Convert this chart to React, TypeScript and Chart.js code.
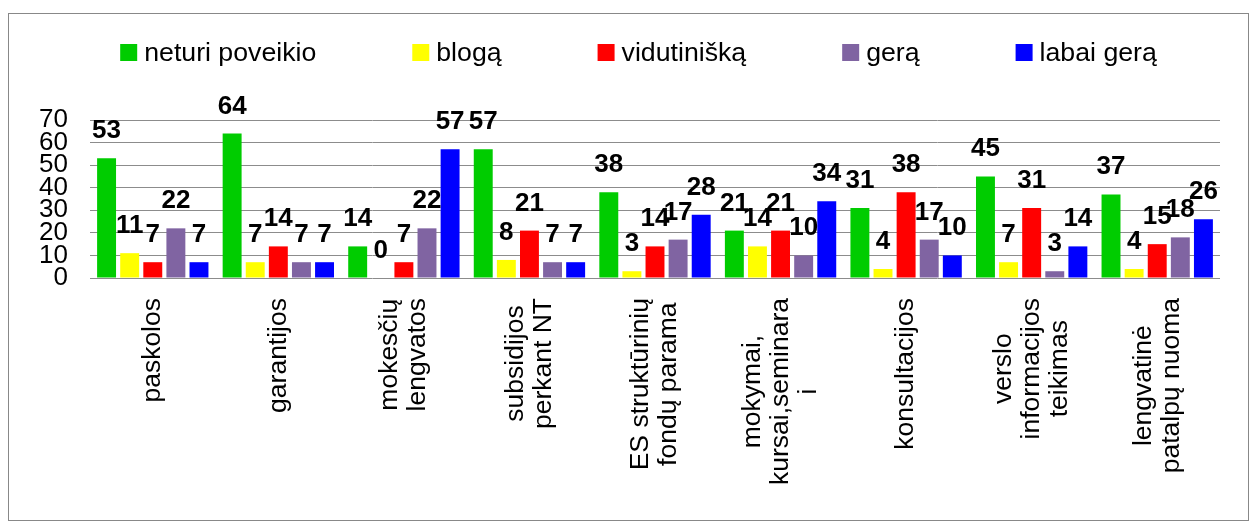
import React, { useEffect, useRef } from 'react';
import { Chart, registerables } from 'chart.js';

Chart.register(...registerables);

const categories: string[][] = [
  ['paskolos'],
  ['garantijos'],
  ['mokesčių', 'lengvatos'],
  ['subsidijos', 'perkant NT'],
  ['ES struktūrinių', 'fondų parama'],
  ['mokymai,', 'kursai,seminara', 'i'],
  ['konsultacijos'],
  ['verslo', 'informacijos', 'teikimas'],
  ['lengvatinė', 'patalpų nuoma'],
];

const seriesNames = ['neturi poveikio', 'blogą', 'vidutinišką', 'gerą', 'labai gerą'];
const seriesColors = ['#00CC00', '#FFFF00', '#FF0000', '#8064A2', '#0000FF'];

const neturiPoveikio = [53, 64, 14, 57, 38, 21, 31, 45, 37];
const bloga = [11, 7, 0, 8, 3, 14, 4, 7, 4];
const vidutiniska = [7, 14, 7, 21, 14, 21, 38, 31, 15];
const gera = [22, 7, 22, 7, 17, 10, 17, 3, 18];
const labaiGera = [7, 7, 57, 7, 28, 34, 10, 14, 26];

const yMin = 0;
const yMax = 70;
const yStep = 10;

const FONT = 'Arial, "Liberation Sans", sans-serif';

const dataLabelPlugin = {
  id: 'dataLabels',
  afterDatasetsDraw(chart: any) {
    const ctx = chart.ctx;
    ctx.save();
    ctx.font = `bold 26px ${FONT}`;
    ctx.fillStyle = '#000';
    ctx.textAlign = 'center';
    ctx.textBaseline = 'alphabetic';
    chart.data.datasets.forEach((ds: any, di: number) => {
      const meta = chart.getDatasetMeta(di);
      meta.data.forEach((bar: any, i: number) => {
        ctx.fillText(String(ds.data[i]), bar.x, bar.y - 20);
      });
    });
    ctx.restore();
  },
};

const xLabelPlugin = {
  id: 'xLabels',
  afterDraw(chart: any) {
    const ctx = chart.ctx;
    const xs = chart.scales.x;
    const top = chart.chartArea.bottom + 20;
    const lineGap = 28;
    ctx.save();
    ctx.font = `26.5px ${FONT}`;
    ctx.fillStyle = '#000';
    ctx.textAlign = 'center';
    ctx.textBaseline = 'middle';
    categories.forEach((lines, i) => {
      const x = xs.getPixelForValue(i);
      const maxW = Math.max(...lines.map((l) => ctx.measureText(l).width));
      const cy = top + maxW / 2;
      ctx.save();
      ctx.translate(x, cy);
      ctx.rotate(-Math.PI / 2);
      const n = lines.length;
      lines.forEach((l, j) => {
        ctx.fillText(l, 0, (j - (n - 1) / 2) * lineGap);
      });
      ctx.restore();
    });
    ctx.restore();
  },
};

const legendPlugin = {
  id: 'topLegend',
  afterDraw(chart: any) {
    const ctx = chart.ctx;
    ctx.save();
    ctx.font = `26.7px ${FONT}`;
    const box = 17;
    const gapText = 7;
    const gapItem = 96;
    const widths = seriesNames.map((s) => ctx.measureText(s).width);
    const total =
      widths.reduce((a, w) => a + box + gapText + w, 0) + gapItem * (seriesNames.length - 1);
    let x = (chart.width - total) / 2 + 10;
    const baseline = 47;
    ctx.textAlign = 'left';
    ctx.textBaseline = 'alphabetic';
    seriesNames.forEach((s, i) => {
      ctx.fillStyle = seriesColors[i];
      ctx.fillRect(x, baseline - box, box, box);
      ctx.fillStyle = '#000';
      ctx.fillText(s, x + box + gapText, baseline);
      x += box + gapText + widths[i] + gapItem;
    });
    ctx.restore();
  },
};

export default function App() {
  const canvasRef = useRef<HTMLCanvasElement | null>(null);

  useEffect(() => {
    if (!canvasRef.current) return;
    const seriesData = [neturiPoveikio, bloga, vidutiniska, gera, labaiGera];
    const chart = new Chart(canvasRef.current, {
      type: 'bar',
      data: {
        labels: categories.map((c) => c.join(' ')),
        datasets: seriesNames.map((name, i) => ({
          label: name,
          data: seriesData[i],
          backgroundColor: seriesColors[i],
          borderWidth: 0,
          categoryPercentage: 0.92,
          barPercentage: 0.82,
        })),
      },
      options: {
        responsive: false,
        animation: false,
        devicePixelRatio: 1,
        layout: { padding: { top: 106, right: 28, bottom: 242, left: 0 } },
        plugins: {
          legend: { display: false },
          tooltip: { enabled: false },
        },
        scales: {
          x: {
            display: false,
          },
          y: {
            min: yMin,
            max: yMax,
            border: { display: false },
            grid: { color: '#8c8c8c', lineWidth: 1, drawTicks: false },
            ticks: {
              stepSize: yStep,
              autoSkip: false,
              padding: 22,
              color: '#000',
              font: { family: FONT, size: 26 },
            },
            afterFit: (scale: any) => {
              scale.width = 81;
            },
          },
        },
      },
      plugins: [dataLabelPlugin, xLabelPlugin, legendPlugin],
    });
    return () => chart.destroy();
  }, []);

  return (
    <div style={{ paddingTop: 5 }}>
      <div style={{ width: 1239, height: 506, border: '1px solid #888' }}>
        <canvas ref={canvasRef} width={1239} height={506} style={{ display: 'block' }} />
      </div>
    </div>
  );
}
